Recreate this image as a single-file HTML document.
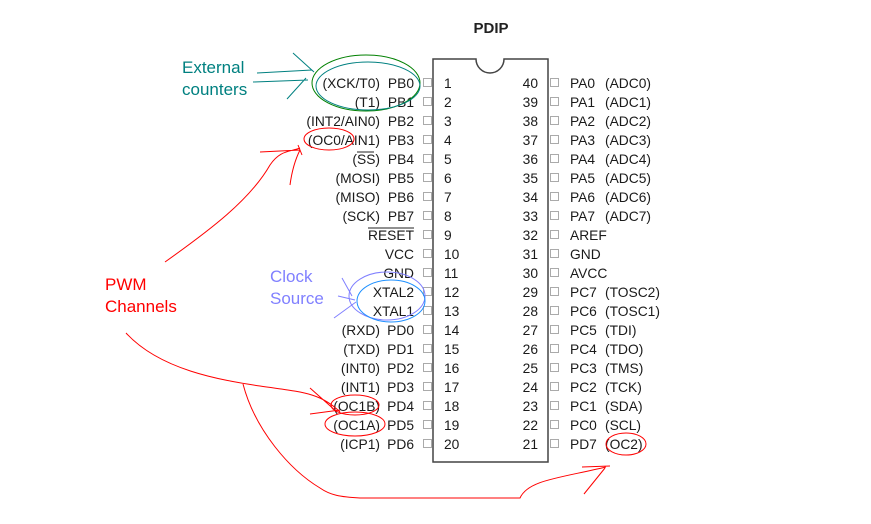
<!DOCTYPE html>
<html><head><style>
body{margin:0;background:#fff;}
svg{display:block;font-family:"Liberation Sans",Arial,sans-serif;}
.t{font-size:13.8px;fill:#1a1a1a;}
</style></head><body>
<svg width="871" height="524" viewBox="0 0 871 524">
<text x="491" y="33" text-anchor="middle" font-size="15" font-weight="bold" fill="#222">PDIP</text>
<path d="M433,59 H476 A14,14 0 0 0 504,59 H548 V462 H433 Z" fill="none" stroke="#444" stroke-width="1.5"/>
<g id="pins" class="t"></g>
<text x="182" y="73" font-size="17" fill="#008080">External</text>
<text x="182" y="95" font-size="17" fill="#008080">counters</text>
<text x="270" y="282" font-size="17" fill="#8080ff">Clock</text>
<text x="270" y="304" font-size="17" fill="#8080ff">Source</text>
<text x="105" y="290" font-size="17" fill="#ff0000">PWM</text>
<text x="105" y="312" font-size="17" fill="#ff0000">Channels</text>
<g fill="none" stroke-width="1">
<ellipse cx="366" cy="83" rx="54" ry="28" stroke="#008000"/>
<ellipse cx="368" cy="86" rx="52" ry="24" stroke="#008080"/>
<path d="M257,73 L312,70 M253,82 L308,80 M293,53 L314,72 M287,99 L306,78" stroke="#008080"/>
<ellipse cx="329" cy="139" rx="25" ry="11" stroke="#ff0000"/>
<path d="M165,262 C210,230 250,200 270,165 C280,150 290,152 300,148 M260,152 L300,150 M290,185 C292,170 295,160 300,150 M298,145 L302,155" stroke="#ff0000"/>
<ellipse cx="387" cy="296" rx="38" ry="24" stroke="#8080ff"/>
<ellipse cx="391" cy="301" rx="34" ry="21" stroke="#1e90ff"/>
<path d="M342,278 L352,296 M338,296 L355,300 M334,318 L356,302" stroke="#8080ff"/>
<ellipse cx="355" cy="405" rx="24" ry="10" stroke="#ff0000"/>
<ellipse cx="355" cy="424" rx="30" ry="12" stroke="#ff0000"/>
<path d="M126,333 C160,370 220,380 260,386 C300,392 320,392 340,412 M310,388 L337,412 M310,414 L340,410" stroke="#ff0000"/>
<path d="M243,384 C255,430 290,470 320,488 C330,495 340,497 360,498 L520,498 C528,480 560,478 606,467 M582,467 L610,466 M584,494 L605,468" stroke="#ff0000"/>
<ellipse cx="626" cy="444" rx="20" ry="11" stroke="#ff0000"/>
</g>
</svg>
<script>
var L=[["(XCK/T0)","PB0"],["(T1)","PB1"],["(INT2/AIN0)","PB2"],["(OC0/AIN1)","PB3"],["(SS)","PB4"],["(MOSI)","PB5"],["(MISO)","PB6"],["(SCK)","PB7"],["","RESET"],["","VCC"],["","GND"],["","XTAL2"],["","XTAL1"],["(RXD)","PD0"],["(TXD)","PD1"],["(INT0)","PD2"],["(INT1)","PD3"],["(OC1B)","PD4"],["(OC1A)","PD5"],["(ICP1)","PD6"]];
var R=[["PA0","(ADC0)"],["PA1","(ADC1)"],["PA2","(ADC2)"],["PA3","(ADC3)"],["PA4","(ADC4)"],["PA5","(ADC5)"],["PA6","(ADC6)"],["PA7","(ADC7)"],["AREF",""],["GND",""],["AVCC",""],["PC7","(TOSC2)"],["PC6","(TOSC1)"],["PC5","(TDI)"],["PC4","(TDO)"],["PC3","(TMS)"],["PC2","(TCK)"],["PC1","(SDA)"],["PC0","(SCL)"],["PD7","(OC2)"]];
var g=document.getElementById("pins"),s="";
for(var i=0;i<20;i++){var y=83+i*19,b=y+5;
s+='<rect x="423.5" y="'+(y-4.5)+'" width="8" height="8" fill="none" stroke="#aaa"/>';
s+='<rect x="550.5" y="'+(y-4.5)+'" width="8" height="8" fill="none" stroke="#aaa"/>';
s+='<text x="444" y="'+b+'">'+(i+1)+'</text>';
s+='<text x="538" y="'+b+'" text-anchor="end">'+(40-i)+'</text>';
var n=L[i][1];
s+='<text x="414" y="'+b+'" text-anchor="end">'+n+'</text>';
if(n=="RESET")s+='<line x1="368" y1="'+(y-7)+'" x2="414" y2="'+(y-7)+'" stroke="#222"/>';
if(L[i][0]){s+='<text x="380" y="'+b+'" text-anchor="end">'+L[i][0]+'</text>';}
if(i==4)s+='<line x1="357" y1="'+(y-7)+'" x2="374" y2="'+(y-7)+'" stroke="#222"/>';
s+='<text x="570" y="'+b+'">'+R[i][0]+'</text>';
if(R[i][1])s+='<text x="605" y="'+b+'">'+R[i][1]+'</text>';}
g.innerHTML=s;
</script>
</body></html>
